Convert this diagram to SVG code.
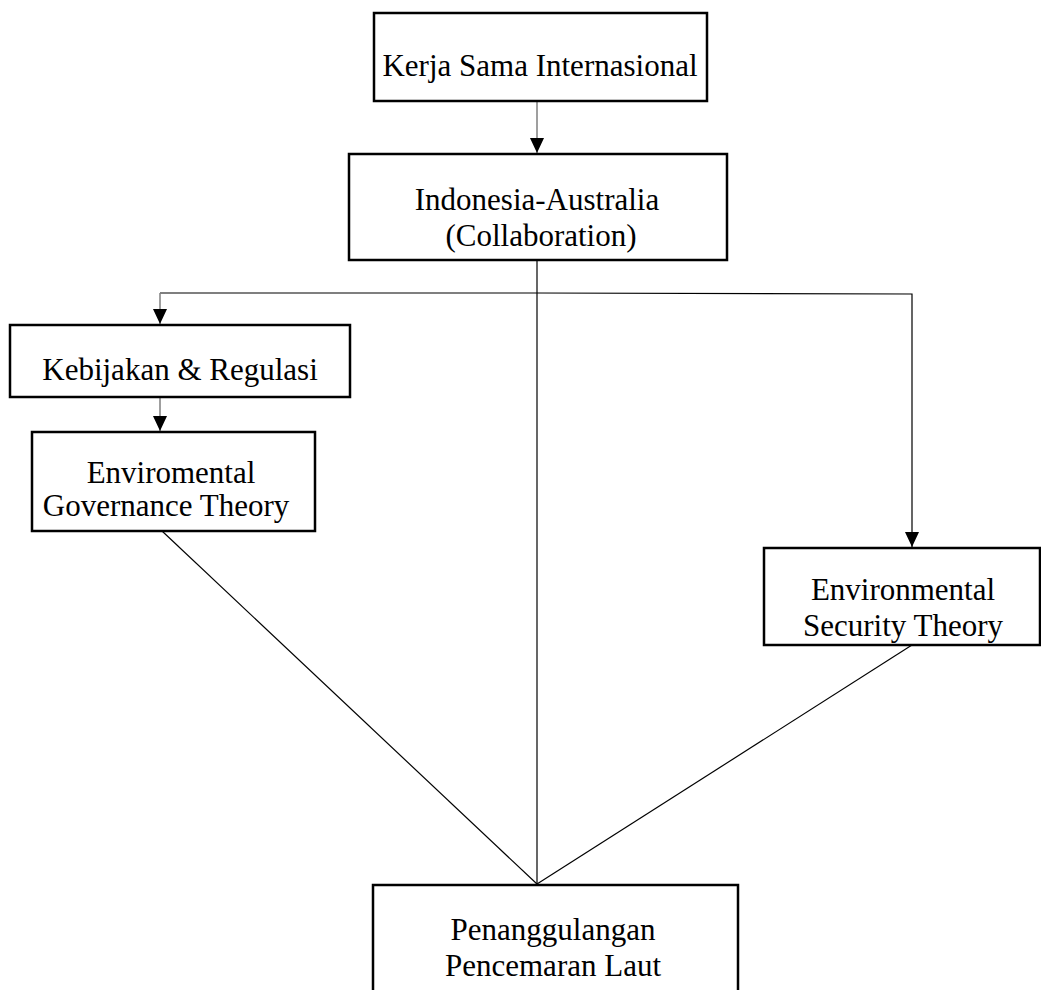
<svg xmlns="http://www.w3.org/2000/svg" width="1041" height="990" viewBox="0 0 1041 990">
<style>
.box{fill:#fff;stroke:#000;stroke-width:2.5}
.t{font-family:"Liberation Serif","Times New Roman",serif;font-size:31px;fill:#000;text-anchor:middle}
.c{fill:none;stroke:#000;stroke-width:1.2}
.g{fill:none;stroke:#7f7f7f;stroke-width:1.5}
</style>
<defs>
<marker id="ah" viewBox="0 0 15 14" markerWidth="15" markerHeight="14" refX="15" refY="7" orient="auto" markerUnits="userSpaceOnUse">
<path d="M0,0 L15,7 L0,14 z" fill="#000"/>
</marker>
</defs>
<rect width="1041" height="990" fill="#fff"/>
<g id="connectors">
<line class="g" x1="537" y1="101" x2="537" y2="153" marker-end="url(#ah)"/>
<polyline class="c" points="537,260 537,884"/>
<polyline class="c" points="537,293 912,294 912,547" marker-end="url(#ah)"/>
<polyline class="c" points="537,293 160,293"/>
<line class="g" x1="160" y1="293" x2="160" y2="324" marker-end="url(#ah)"/>
<line class="g" x1="160" y1="397" x2="160" y2="431" marker-end="url(#ah)"/>
<line class="c" x1="162" y1="531" x2="537" y2="884"/>
<line class="c" x1="912" y1="645" x2="537" y2="884"/>
</g>
<g id="n1">
<rect class="box" x="374" y="13" width="333" height="88"/>
<text class="t" x="540" y="76">Kerja Sama Internasional</text>
</g>
<g id="n2">
<rect class="box" x="349" y="154" width="378" height="106"/>
<text class="t" x="537" y="210">Indonesia-Australia</text>
<text class="t" x="541" y="246">(Collaboration)</text>
</g>
<g id="n3">
<rect class="box" x="10" y="325" width="340" height="72"/>
<text class="t" x="180" y="380">Kebijakan &amp; Regulasi</text>
</g>
<g id="n4">
<rect class="box" x="32" y="432" width="283" height="99"/>
<text class="t" x="171" y="483">Enviromental</text>
<text class="t" x="166" y="516">Governance Theory</text>
</g>
<g id="n5">
<rect class="box" x="764" y="548" width="276" height="97"/>
<text class="t" x="903" y="600">Environmental</text>
<text class="t" x="903" y="636">Security Theory</text>
</g>
<g id="n6">
<rect class="box" x="373" y="885" width="365" height="120"/>
<text class="t" x="553" y="940">Penanggulangan</text>
<text class="t" x="553" y="976">Pencemaran Laut</text>
</g>
</svg>
